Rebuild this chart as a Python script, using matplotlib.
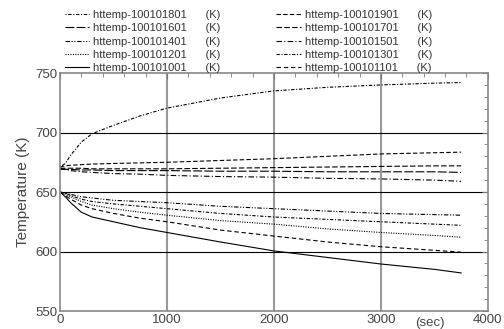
import numpy as np
import matplotlib
matplotlib.use('Agg')
import matplotlib.pyplot as plt

plt.rcParams['font.family'] = ['Liberation Sans', 'DejaVu Sans']

# time axis (sec)
t = [0, 50, 100, 200, 300, 500, 750, 1000, 1500, 2000, 2500, 3000, 3500, 3750]

# temperatures (K)
T001 = [650, 646, 641, 633, 629, 625, 620, 616, 608, 600.5, 595, 589.5, 585, 582]
T101 = [650, 647, 644, 639, 636, 632, 628, 625, 618, 613, 608, 604, 601, 599.5]
T201 = [650, 648, 646, 642, 639, 636, 633, 630.5, 626, 623, 619, 616, 613.5, 612]
T301 = [650, 649, 647, 644, 642, 640, 638, 636, 632, 629, 627, 625, 623, 622]
T401 = [650, 649, 648, 646, 645, 643, 642, 641, 638, 636, 634, 632, 631, 630.5]
T501 = [670, 669, 668, 667, 666.5, 665.5, 665, 664, 663, 662.5, 661.5, 661, 660, 659]
T601 = [669, 669, 669, 668.5, 668.5, 668, 668, 668, 667.5, 667.5, 667, 667, 667, 666.5]
T701 = [670, 670, 670, 670, 669.5, 669.5, 669.5, 669.5, 670, 670.5, 671, 671.5, 672, 672]
T801 = [671, 674, 681, 692, 699, 706, 714, 720.5, 729, 735, 738, 740, 741.5, 742]
T901 = [671, 672, 672.5, 673, 673.5, 674, 674.5, 675, 676.5, 678, 680, 682, 683, 683.5]

series = [
    ('100101801', T801, (0, (1, 1.5, 3, 1.5))),
    ('100101601', T601, (0, (8, 2))),
    ('100101401', T401, (0, (4, 1.5, 1, 1.5, 1, 1.5))),
    ('100101201', T201, (0, (1, 1.2))),
    ('100101001', T001, '-'),
    ('100101901', T901, (0, (4, 2))),
    ('100101701', T701, (0, (5, 2))),
    ('100101501', T501, (0, (5, 2, 1, 2))),
    ('100101301', T301, (0, (3, 1.5, 1, 1.5))),
    ('100101101', T101, (0, (4, 2.5))),
]

fig = plt.figure(figsize=(5.04, 3.29), dpi=100)
ax = fig.add_axes([0.119, 0.0547, 0.849, 0.7233])

for name, vals, ls in series:
    ax.plot(t, vals, color='black', lw=0.8, linestyle=ls,
            label='httemp-' + name + '      (K)')

ax.set_xlim(0, 4000)
ax.set_ylim(550, 750)
ax.set_xticks([0, 1000, 2000, 3000, 4000])
ax.set_yticks([550, 600, 650, 700, 750])
ax.set_xticks(np.arange(0, 4001, 200), minor=True)
ax.set_yticks(np.arange(550, 751, 10), minor=True)
ax.tick_params(which='both', direction='in', bottom=False, left=False,
               top=True, right=True, color='#777777', labelsize=9.5,
               labelcolor='#444444')
ax.tick_params(which='major', length=4, pad=2)
ax.tick_params(which='minor', length=3)

for x in [1000, 2000, 3000]:
    ax.axvline(x, color='#999999', lw=1.5, zorder=0)
for y in [600, 650, 700]:
    ax.axhline(y, color='black', lw=0.8, zorder=0)
for s in ax.spines.values():
    s.set_color('#888888')
    s.set_linewidth(1.2)

ax.set_ylabel('Temperature (K)', fontsize=11, color='#444444', labelpad=4)
ax.text(3460, 545, '(sec)', ha='center', va='top', fontsize=9.5, color='#444444')

fig.legend(loc='upper left', bbox_to_anchor=(0.109, 1.0), ncol=2,
           frameon=False, fontsize=8, handlelength=2.2, handletextpad=0.35,
           labelspacing=0.3, columnspacing=5.0, labelcolor='#333333')

fig.savefig('out.png', dpi=100)
